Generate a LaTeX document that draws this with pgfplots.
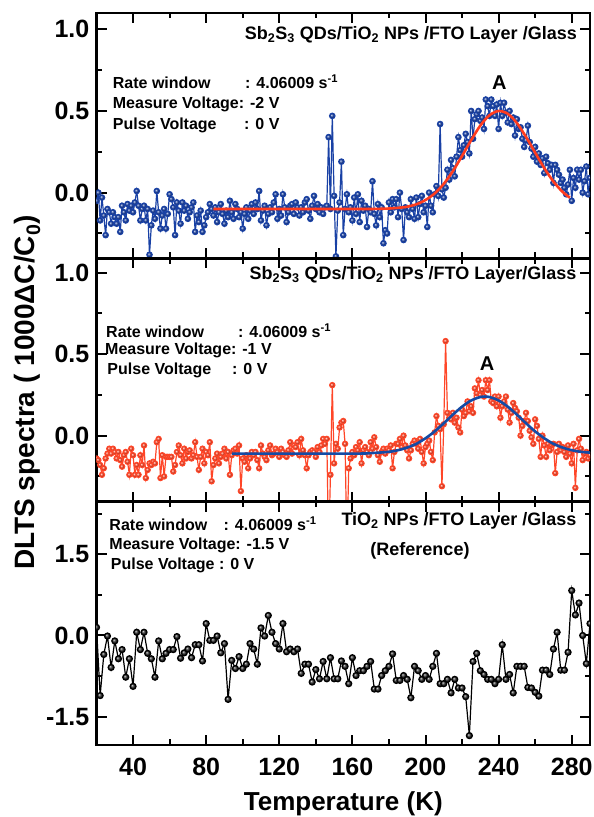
\documentclass[border=0pt]{standalone}
\usepackage{pgfplots}
\pgfplotsset{compat=1.18}
\usepackage{pgfplotstable}
\usepackage{fontspec}
\setmainfont{Liberation Sans}
\definecolor{dblue}{RGB}{25,65,165}
\definecolor{fitred}{RGB}{255,60,30}
\definecolor{dred}{RGB}{255,70,40}
\definecolor{fitblue}{RGB}{20,75,165}
\newcommand{\tfont}{\fontsize{25}{25}\selectfont\bfseries}
\newcommand{\afont}{\fontsize{16}{16}\selectfont\bfseries}
\newcommand{\hfont}{\fontsize{18}{18}\selectfont\bfseries}

\pgfplotstableread[row sep=\\]{T v\\
20 -0.05\\21 0.00\\22 -0.17\\23 -0.03\\24 -0.14\\25 -0.26\\26 -0.10\\27 -0.12\\28 -0.19\\29 -0.12\\
30 -0.15\\31 -0.19\\32 -0.15\\33 -0.24\\34 -0.08\\35 -0.12\\36 -0.17\\37 -0.07\\38 -0.11\\39 -0.08\\
40 -0.12\\41 -0.06\\42 0.01\\43 -0.08\\44 -0.17\\45 -0.10\\46 -0.08\\47 -0.17\\48 -0.10\\49 -0.38\\
50 -0.20\\51 -0.11\\52 -0.16\\53 0.01\\54 -0.12\\55 -0.22\\56 -0.14\\57 -0.10\\58 -0.22\\59 -0.13\\
60 -0.01\\61 -0.04\\62 -0.09\\63 -0.26\\64 -0.06\\65 -0.11\\66 -0.19\\67 -0.06\\68 -0.11\\69 -0.08\\
70 -0.16\\71 -0.12\\72 -0.09\\73 -0.06\\74 -0.24\\75 -0.14\\76 -0.18\\77 -0.11\\78 -0.24\\79 -0.20\\
80 -0.15\\81 -0.12\\82 -0.07\\83 -0.10\\84 -0.14\\85 -0.09\\86 -0.18\\87 -0.12\\88 -0.07\\89 -0.13\\
90 -0.19\\91 -0.11\\92 -0.15\\93 -0.05\\94 -0.12\\95 -0.16\\96 -0.07\\97 -0.10\\98 -0.15\\99 -0.12\\
100 -0.22\\101 -0.13\\102 -0.09\\103 -0.16\\104 -0.11\\105 -0.07\\106 -0.13\\107 -0.06\\108 -0.10\\109 0.01\\
110 -0.17\\111 -0.11\\112 -0.08\\113 -0.20\\114 -0.13\\115 -0.09\\116 -0.12\\117 -0.06\\118 -0.01\\119 -0.16\\
120 -0.10\\121 -0.14\\122 -0.01\\123 -0.09\\124 -0.18\\125 -0.12\\126 -0.08\\127 -0.07\\128 -0.13\\129 -0.06\\
130 -0.09\\131 -0.14\\132 -0.09\\133 -0.12\\134 -0.06\\135 -0.04\\136 -0.11\\137 -0.16\\138 -0.08\\139 -0.02\\
140 -0.10\\141 -0.07\\142 -0.12\\143 -0.09\\144 -0.13\\145 -0.09\\146 -0.08\\147 0.34\\148 -0.10\\149 0.47\\
150 -0.02\\151 -0.39\\152 -0.11\\153 -0.06\\154 0.19\\155 -0.26\\156 -0.10\\157 -0.01\\158 -0.12\\159 -0.09\\
160 -0.17\\161 -0.03\\162 -0.13\\163 -0.01\\164 -0.18\\165 -0.05\\166 -0.11\\167 -0.08\\168 -0.21\\169 -0.10\\
170 -0.12\\171 0.07\\172 -0.13\\173 -0.20\\174 -0.07\\175 -0.15\\176 -0.09\\177 -0.31\\178 -0.23\\179 -0.25\\
180 -0.06\\181 -0.12\\182 -0.04\\183 -0.09\\184 -0.04\\185 -0.15\\186 0.00\\187 -0.10\\188 -0.29\\189 -0.09\\
190 -0.12\\191 -0.15\\192 -0.04\\193 -0.10\\194 -0.16\\195 -0.03\\196 -0.15\\197 -0.07\\198 -0.02\\199 -0.12\\
200 -0.08\\201 -0.21\\202 0.00\\203 -0.08\\204 -0.12\\205 -0.01\\206 0.04\\207 -0.02\\208 0.42\\209 0.02\\
210 -0.03\\211 0.03\\212 0.14\\213 0.08\\214 0.20\\215 0.15\\216 0.10\\217 0.22\\218 0.34\\219 0.26\\
220 0.22\\221 0.29\\222 0.36\\223 0.31\\224 0.24\\225 0.50\\226 0.33\\227 0.45\\228 0.48\\229 0.50\\
230 0.44\\231 0.46\\232 0.39\\233 0.57\\234 0.53\\235 0.47\\236 0.57\\237 0.53\\238 0.47\\239 0.54\\
240 0.39\\241 0.55\\242 0.47\\243 0.55\\244 0.49\\245 0.43\\246 0.50\\247 0.42\\248 0.46\\249 0.35\\
250 0.45\\251 0.39\\252 0.40\\253 0.33\\254 0.28\\255 0.32\\256 0.41\\257 0.31\\258 0.27\\259 0.22\\
260 0.28\\261 0.19\\262 0.24\\263 0.17\\264 0.21\\265 0.12\\266 0.22\\267 0.18\\268 0.14\\269 0.17\\
270 0.06\\271 0.17\\272 0.14\\273 0.11\\274 0.06\\275 0.08\\276 0.03\\277 -0.01\\278 0.05\\279 0.14\\
280 -0.05\\281 0.09\\282 0.03\\283 0.14\\284 0.08\\285 0.14\\286 0.00\\287 0.07\\288 0.16\\289 -0.01\\290 0.09\\
}\dataA

\pgfplotstableread[row sep=\\]{T v\\
84 -0.100\\150 -0.100\\170 -0.100\\180 -0.097\\185 -0.093\\190 -0.086\\195 -0.071\\200 -0.045\\205 -0.005\\
210 0.054\\215 0.132\\220 0.225\\225 0.322\\230 0.411\\235 0.474\\240 0.500\\245 0.483\\250 0.426\\
255 0.341\\260 0.245\\265 0.150\\270 0.068\\275 0.005\\279 -0.031\\
}\fitA

\pgfplotstableread[row sep=\\]{T v\\
20 -0.14\\21 -0.15\\22 -0.18\\23 -0.24\\24 -0.20\\25 -0.14\\26 -0.11\\27 -0.08\\28 -0.11\\29 -0.08\\
30 -0.10\\31 -0.14\\32 -0.10\\33 -0.15\\34 -0.19\\35 -0.12\\36 -0.10\\37 -0.16\\38 -0.24\\39 -0.08\\
40 -0.12\\41 -0.24\\42 -0.18\\43 -0.24\\44 -0.12\\45 -0.18\\46 -0.06\\47 -0.26\\48 -0.21\\49 -0.17\\
50 -0.18\\51 -0.16\\52 -0.17\\53 -0.04\\54 -0.02\\55 -0.26\\56 -0.12\\57 -0.25\\58 -0.13\\59 -0.13\\
60 -0.13\\61 -0.13\\62 -0.22\\63 -0.18\\64 -0.10\\65 -0.06\\66 -0.12\\67 -0.17\\68 -0.08\\69 -0.14\\
70 -0.10\\71 -0.09\\72 -0.14\\73 -0.12\\74 -0.04\\75 -0.13\\76 -0.21\\77 -0.13\\78 -0.08\\79 -0.17\\
80 -0.10\\81 -0.12\\82 -0.04\\83 -0.28\\84 -0.18\\85 -0.14\\86 -0.11\\87 -0.17\\88 -0.13\\89 -0.11\\
90 -0.08\\91 -0.14\\92 -0.10\\93 -0.24\\94 -0.12\\95 -0.09\\96 -0.08\\97 -0.11\\98 -0.06\\99 -0.34\\
100 -0.14\\101 -0.16\\102 -0.12\\103 -0.20\\104 -0.14\\105 -0.10\\106 -0.12\\107 -0.10\\108 -0.15\\109 -0.20\\
110 -0.06\\111 -0.11\\112 -0.13\\113 -0.15\\114 -0.09\\115 -0.06\\116 -0.12\\117 -0.11\\118 -0.08\\119 -0.10\\
120 -0.13\\121 -0.08\\122 -0.10\\123 -0.12\\124 -0.13\\125 -0.09\\126 -0.04\\127 -0.11\\128 -0.06\\129 -0.07\\
130 -0.04\\131 -0.12\\132 -0.02\\133 -0.09\\134 -0.12\\135 -0.20\\136 -0.12\\137 -0.10\\138 -0.09\\139 -0.10\\
140 -0.13\\141 -0.07\\142 -0.10\\143 -0.06\\144 -0.02\\145 -0.05\\146 -0.02\\147 -0.70\\148 -0.24\\149 0.31\\
150 -0.17\\151 -0.05\\152 -0.08\\153 0.05\\154 0.08\\155 0.09\\156 -0.05\\157 -0.70\\158 -0.20\\159 -0.14\\
160 -0.10\\161 -0.12\\162 -0.07\\163 -0.09\\164 -0.04\\165 -0.17\\166 -0.09\\167 -0.07\\168 -0.10\\169 -0.12\\
170 -0.04\\171 -0.08\\172 -0.01\\173 -0.07\\174 -0.12\\175 -0.16\\176 -0.10\\177 -0.08\\178 -0.11\\179 -0.08\\
180 -0.09\\181 -0.06\\182 -0.20\\183 -0.10\\184 -0.05\\185 -0.05\\186 -0.02\\187 -0.07\\188 0.00\\189 -0.06\\
190 -0.09\\191 -0.14\\192 -0.09\\193 -0.05\\194 -0.03\\195 -0.05\\196 -0.08\\197 -0.02\\198 -0.10\\199 -0.17\\
200 -0.07\\201 -0.05\\202 -0.03\\203 -0.10\\204 -0.15\\205 0.02\\206 0.12\\207 0.06\\208 0.04\\209 -0.31\\
210 0.07\\211 0.58\\212 0.14\\213 0.11\\214 0.10\\215 0.14\\216 0.08\\217 0.11\\218 0.05\\219 0.02\\
220 0.16\\221 0.12\\222 0.14\\223 0.21\\224 0.15\\225 0.18\\226 0.14\\227 0.29\\228 0.26\\229 0.34\\
230 0.25\\231 0.28\\232 0.24\\233 0.34\\234 0.28\\235 0.34\\236 0.21\\237 0.20\\238 0.24\\239 0.18\\
240 0.24\\241 0.11\\242 0.18\\243 0.21\\244 0.24\\245 0.16\\246 0.08\\247 0.14\\248 0.20\\249 0.17\\
250 0.15\\251 0.11\\252 0.00\\253 0.06\\254 0.09\\255 0.14\\256 0.09\\257 0.03\\258 -0.01\\259 -0.05\\
260 0.10\\261 0.06\\262 -0.02\\263 -0.13\\264 0.00\\265 -0.06\\266 -0.13\\267 -0.05\\268 -0.09\\269 -0.06\\
270 -0.05\\271 -0.23\\272 -0.10\\273 -0.05\\274 -0.09\\275 -0.07\\276 -0.10\\277 -0.13\\278 -0.06\\279 -0.11\\
280 -0.17\\281 -0.05\\282 -0.32\\283 -0.09\\284 -0.02\\285 -0.08\\286 -0.15\\287 -0.11\\288 -0.10\\289 -0.14\\290 -0.12\\
}\dataB

\pgfplotstableread[row sep=\\]{T v\\
94 -0.110\\160 -0.110\\170 -0.107\\180 -0.099\\185 -0.089\\190 -0.073\\195 -0.050\\200 -0.016\\
205 0.026\\210 0.076\\215 0.129\\220 0.178\\225 0.216\\230 0.237\\232.5 0.240\\235 0.237\\240 0.216\\
245 0.178\\250 0.129\\255 0.076\\260 0.026\\265 -0.016\\270 -0.050\\275 -0.073\\280 -0.089\\285 -0.099\\290 -0.104\\
}\fitB

\pgfplotstableread[row sep=\\]{T v\\
20 0.15\\22 -1.11\\24 -0.35\\26 -0.01\\28 -0.59\\30 -0.10\\32 -0.43\\34 -0.26\\36 -0.77\\38 -0.43\\
40 -0.94\\42 0.06\\44 -0.26\\46 0.06\\48 -0.33\\50 -0.43\\52 -0.77\\54 -0.10\\56 -0.43\\58 -0.33\\
60 -0.26\\62 -0.26\\64 -0.02\\66 -0.42\\68 -0.32\\70 -0.25\\72 -0.41\\74 -0.17\\76 -0.17\\78 -0.47\\
80 0.22\\82 -0.09\\84 -0.09\\86 -0.01\\88 -0.32\\90 -0.15\\92 -1.18\\94 -0.46\\96 -0.61\\98 -0.39\\
100 -0.61\\102 -0.53\\104 -0.15\\106 -0.25\\108 -0.53\\110 0.14\\112 -0.01\\114 0.37\\116 0.06\\118 -0.15\\
120 -0.25\\122 0.22\\124 -0.30\\126 -0.25\\128 -0.30\\130 -0.25\\132 -0.70\\134 -0.53\\136 -0.53\\138 -0.86\\
140 -0.63\\142 -0.80\\144 -0.48\\146 -0.80\\148 -0.41\\150 -0.80\\152 -0.80\\154 -0.47\\156 -0.57\\158 -0.89\\
160 -0.41\\162 -0.74\\164 -0.65\\166 -0.65\\168 -0.57\\170 -0.48\\172 -0.99\\174 -0.99\\176 -0.74\\178 -0.65\\
180 -0.57\\182 -0.34\\184 -0.83\\186 -0.83\\188 -0.74\\190 -0.81\\192 -1.15\\194 -0.57\\196 -0.65\\198 -0.81\\
200 -0.74\\202 -0.81\\204 -0.57\\206 -0.33\\208 -0.89\\210 -0.89\\212 -0.81\\214 -1.06\\216 -0.81\\218 -0.97\\
220 -0.97\\222 -1.13\\224 -1.85\\226 -0.48\\228 -0.33\\230 -0.65\\232 -0.72\\234 -0.81\\236 -0.81\\238 -0.89\\
240 -0.81\\242 -0.17\\244 -0.81\\246 -0.72\\248 -1.06\\250 -0.57\\252 -0.57\\254 -0.57\\256 -0.96\\258 -0.97\\
260 -1.05\\262 -1.12\\264 -0.64\\266 -0.64\\268 -0.72\\270 -0.25\\272 0.06\\274 -0.64\\276 -0.64\\278 -0.31\\
280 0.83\\282 0.38\\284 0.60\\286 0.00\\288 -0.52\\290 0.22\\
}\dataC

\pgfplotsset{panel/.style={
  scale only axis, width=493.5pt,
  xmin=20, xmax=290,
  axis line style={line width=2.6pt},
  tick style={line width=2pt, black},
  major tick length=10pt, minor tick length=5.5pt,
  tick align=inside,
  xtick={40,80,...,280},
  minor xtick={20,60,100,140,180,220,260},
  tick label style={font=\tfont},
  yticklabel style={inner sep=0pt, xshift=-7pt},
  xticklabel style={inner sep=0pt, yshift=-13pt},
  clip marker paths=true,
}}

\begin{document}
\begin{tikzpicture}[x=1pt,y=1pt]
\path[use as bounding box] (-96.5pt,-72pt) rectangle (497.5pt,745pt);
% panel 1
\begin{axis}[panel, at={(0pt,487pt)}, anchor=south west, height=245pt,
  ymin=-0.40, ymax=1.10, ytick={0,0.5,1}, yticklabels={0.0,0.5,1.0},
  minor ytick={-0.25,0.25,0.75}, xticklabels={}]
\addplot[dblue, line width=1.2pt, mark=ball, mark size=2.7pt, mark options={ball color=dblue}] table {\dataA};
\addplot[fitred, line width=2.6pt, smooth] table {\fitA};
\end{axis}
% panel 2
\begin{axis}[panel, at={(0pt,243.3pt)}, anchor=south west, height=243.4pt,
  ymin=-0.405, ymax=1.088, ytick={0,0.5,1}, yticklabels={0.0,0.5,1.0},
  minor ytick={-0.25,0.25,0.75}, xticklabels={}]
\addplot[dred, line width=1.2pt, mark=ball, mark size=2.6pt, mark options={ball color=dred}] table {\dataB};
\addplot[fitblue, line width=2.6pt, smooth] table {\fitB};
\end{axis}
% panel 3
\begin{axis}[panel, at={(0pt,0pt)}, anchor=south west, height=243.3pt,
  ymin=-2.023, ymax=2.472, ytick={-1.5,0,1.5}, yticklabels={-1.5,0.0,1.5},
  minor ytick={-0.75,0.75,2.25}, xticklabels={40,80,120,160,200,240,280}]
\addplot[black, line width=1.2pt, mark=ball, mark size=3pt, mark options={ball color=black!85}] table {\dataC};
\end{axis}

% panel 1 texts
\node[anchor=base east, inner sep=0pt, font=\hfont] at (480.5pt,705.7pt) {Sb\textsubscript{2}S\textsubscript{3} QDs/TiO\textsubscript{2} NPs /FTO Layer /Glass};
\node[anchor=base west, inner sep=0pt, font=\afont] at (16.2pt,656.7pt) {Rate window};
\node[anchor=base west, inner sep=0pt, font=\afont] at (148.5pt,656.7pt) {: 4.06009 s\textsuperscript{-1}};
\node[anchor=base west, inner sep=0pt, font=\afont] at (16.2pt,636.7pt) {Measure Voltage: -2 V};
\node[anchor=base west, inner sep=0pt, font=\afont] at (16.2pt,615.7pt) {Pulse Voltage};
\node[anchor=base west, inner sep=0pt, font=\afont] at (147.5pt,615.7pt) {: 0 V};
\node[anchor=base, inner sep=0pt, font=\fontsize{20}{20}\selectfont\bfseries] at (402.8pt,655.7pt) {A};

% panel 2 texts
\node[anchor=base east, inner sep=0pt, font=\hfont] at (480.2pt,465.7pt) {Sb\textsubscript{2}S\textsubscript{3} QDs/TiO\textsubscript{2} NPs /FTO Layer/Glass};
\node[anchor=base west, inner sep=0pt, font=\afont] at (9.5pt,407.7pt) {Rate window};
\node[anchor=base west, inner sep=0pt, font=\afont] at (141.5pt,407.7pt) {: 4.06009 s\textsuperscript{-1}};
\node[anchor=base west, inner sep=0pt, font=\afont] at (8.5pt,390pt) {Measure Voltage: -1 V};
\node[anchor=base west, inner sep=0pt, font=\afont] at (10.8pt,370.7pt) {Pulse Voltage};
\node[anchor=base west, inner sep=0pt, font=\afont] at (135.5pt,370.7pt) {: 0 V};
\node[anchor=base, inner sep=0pt, font=\fontsize{20}{20}\selectfont\bfseries] at (390.7pt,374.3pt) {A};

% panel 3 texts
\node[anchor=base east, inner sep=0pt, font=\hfont] at (480.2pt,219.3pt) {TiO\textsubscript{2} NPs /FTO Layer /Glass};
\node[anchor=base, inner sep=0pt, font=\hfont] at (323.5pt,189.3pt) {(Reference)};
\node[anchor=base west, inner sep=0pt, font=\afont] at (12.8pt,214.3pt) {Rate window};
\node[anchor=base west, inner sep=0pt, font=\afont] at (127pt,214.3pt) {: 4.06009 s\textsuperscript{-1}};
\node[anchor=base west, inner sep=0pt, font=\afont] at (12.8pt,195pt) {Measure Voltage: -1.5 V};
\node[anchor=base west, inner sep=0pt, font=\afont] at (14.2pt,175.7pt) {Pulse Voltage : 0 V};

% axis labels
\node[anchor=base, inner sep=0pt, font=\fontsize{26}{26}\selectfont\bfseries] at (246.8pt,-65pt) {Temperature (K)};
\node[anchor=base, rotate=90, inner sep=0pt, font=\fontsize{28}{28}\selectfont\bfseries] at (-61.5pt,352.5pt) {DLTS spectra ( 1000ΔC/C\textsubscript{0})};
\end{tikzpicture}
\end{document}
